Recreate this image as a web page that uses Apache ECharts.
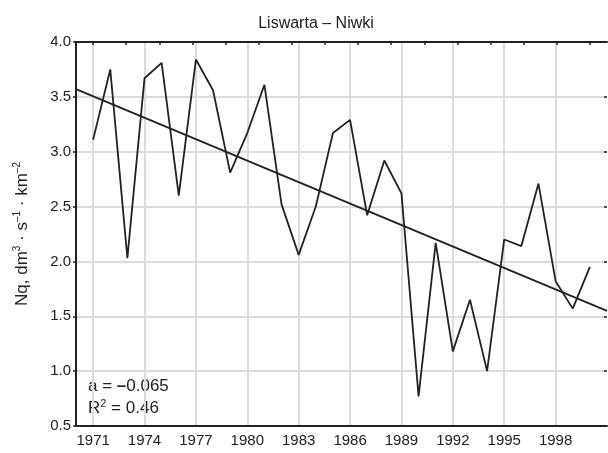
<!DOCTYPE html>
<html>
<head>
<meta charset="utf-8">
<script src="https://cdn.jsdelivr.net/npm/echarts@6/dist/echarts.min.js"></script>
<style>
  html, body { margin: 0; padding: 0; background: #fff; }
  #chart { width: 608px; height: 453px; }
</style>
</head>
<body>
<div id="chart"></div>
<script>
// kategorie osi X (lata), 1970 i 2001 to tylko brzegi osi
const years = ['1970', '1971', '1972', '1973', '1974', '1975', '1976', '1977', '1978', '1979', '1980',
  '1981', '1982', '1983', '1984', '1985', '1986', '1987', '1988', '1989', '1990',
  '1991', '1992', '1993', '1994', '1995', '1996', '1997', '1998', '1999', '2000', '2001'];
// Nq
const nq = [null, 3.11, 3.75, 2.03, 3.67, 3.81, 2.6, 3.84, 3.56, 2.81, 3.17,
  3.61, 2.52, 2.06, 2.5, 3.17, 3.29, 2.42, 2.92, 2.62, 0.77,
  2.17, 1.18, 1.65, 1.0, 2.2, 2.14, 2.71, 1.82, 1.57, 1.95, null];
// linia trendu (a = -0.065)
const trendYears = ['1970', '2001'];
const trendValues = [3.57, 1.55];
const labelYears = ['1971', '1974', '1977', '1980', '1983', '1986', '1989', '1992', '1995', '1998'];

const ink = '#222';
const fontFam = '"Liberation Sans", Arial, sans-serif';

let myChart = echarts.init(document.getElementById('chart'));

const showYear = function (idx, val) {
  return labelYears.indexOf(String(val)) >= 0;
};

let option = {
  animation: false,
  backgroundColor: '#fff',
  textStyle: { fontFamily: fontFam },
  title: {
    text: 'Liswarta – Niwki',
    left: 311,
    textAlign: 'center',
    top: 11,
    textStyle: { fontSize: 16, fontWeight: 'normal', color: ink, fontFamily: fontFam }
  },
  grid: { left: 76, right: 1, top: 42, bottom: 27, containLabel: false },
  xAxis: [
    {
      type: 'category',
      data: years,
      boundaryGap: false,
      axisLine: { show: true, onZero: false, lineStyle: { color: ink, width: 2 } },
      axisTick: { show: false },
      axisLabel: {
        interval: showYear,
        color: ink, fontSize: 15, margin: 7, fontFamily: fontFam
      },
      splitLine: {
        show: true,
        interval: showYear,
        lineStyle: { color: '#dcdcdc', width: 2 }
      }
    },
    {
      // górna krawędź z kreskami
      type: 'value',
      position: 'top',
      min: -15 / 29,
      max: 15 + 15 / 29,
      axisLine: { show: true, onZero: false, lineStyle: { color: ink, width: 2 } },
      axisTick: {
        show: true, inside: true, length: 3,
        customValues: [0, 1, 2, 3, 4, 5, 6, 7, 8, 9, 10, 11, 12, 13, 14, 15],
        lineStyle: { color: ink, width: 1.5 }
      },
      axisLabel: { show: false },
      splitLine: { show: false }
    }
  ],
  yAxis: [
    {
      type: 'value',
      min: 0.5,
      max: 4.0,
      interval: 0.5,
      name: '{t|Nq, dm}{s|3}{t| · s}{s|–1}{t| · km}{s|–2}',
      nameLocation: 'middle',
      nameRotate: 90,
      nameGap: 44,
      nameTextStyle: {
        rich: {
          t: { fontSize: 17, color: ink, fontFamily: fontFam },
          s: { fontSize: 10, color: ink, verticalAlign: 'top', padding: [0, 0, 10, 0], fontFamily: fontFam }
        }
      },
      axisLine: { show: true, onZero: false, lineStyle: { color: ink, width: 2 } },
      axisTick: { show: true, length: 3, lineStyle: { color: ink, width: 1.5 } },
      axisLabel: {
        color: ink, fontSize: 15, margin: 5, fontFamily: fontFam,
        formatter: function (v) { return v.toFixed(1); }
      },
      splitLine: { show: true, lineStyle: { color: '#dcdcdc', width: 2 } }
    },
    {
      type: 'value',
      position: 'right',
      min: 0.5,
      max: 4.0,
      interval: 0.5,
      axisLine: { show: false, onZero: false },
      axisTick: { show: true, inside: true, length: 3, lineStyle: { color: ink, width: 1.5 } },
      axisLabel: { show: false },
      splitLine: { show: false }
    }
  ],
  graphic: [
    {
      type: 'text',
      left: 88,
      top: 378,
      style: {
        text: '{t|a = }{d|–}{t|0.065}',
        rich: {
          t: { fontSize: 17, fill: ink, fontFamily: fontFam },
          d: { fontSize: 17, fill: ink, fontFamily: fontFam, fontWeight: 'bold' }
        }
      }
    },
    {
      type: 'text',
      left: 88,
      top: 398,
      style: {
        text: '{t|R}{s|2}{t| = 0.46}',
        rich: {
          t: { fontSize: 17, fill: ink, fontFamily: fontFam },
          s: { fontSize: 11, fill: ink, fontFamily: fontFam, verticalAlign: 'top', padding: [0, 0, 9, 0] }
        }
      }
    }
  ],
  series: [
    {
      name: 'Nq',
      type: 'line',
      data: nq,
      symbol: 'none',
      lineStyle: { color: ink, width: 1.8 },
      z: 5
    },
    {
      name: 'trend',
      type: 'line',
      data: trendYears.map(function (y, i) { return [y, trendValues[i]]; }),
      symbol: 'none',
      lineStyle: { color: ink, width: 1.8 },
      z: 4
    }
  ]
};

myChart.setOption(option);
</script>
</body>
</html>
